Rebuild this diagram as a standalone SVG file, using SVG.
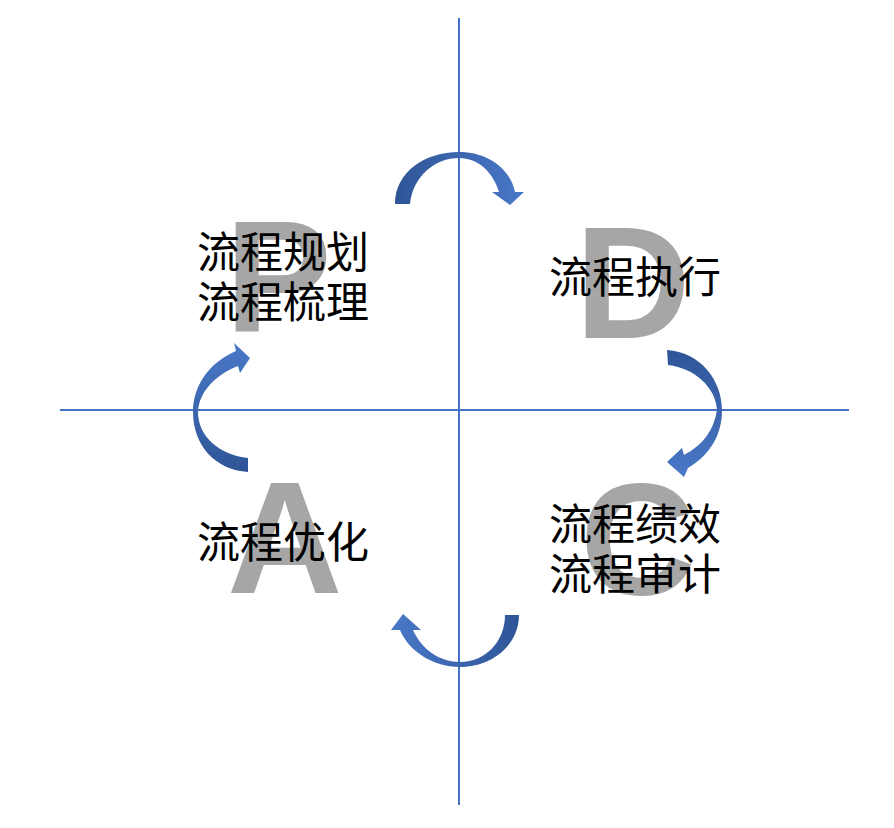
<svg xmlns="http://www.w3.org/2000/svg" width="894" height="828" viewBox="0 0 894 828">
<style>
.axis{stroke:#4472C4;stroke-width:2;fill:none}
.big{font-family:"Liberation Sans",Arial,sans-serif;font-weight:bold;font-size:160px;fill:#A6A6A6}
.lbl{font-family:"Noto Sans CJK SC","Noto Sans",sans-serif;font-size:43px;fill:#000}
.arr{stroke:none}
</style>
<defs>
<linearGradient id="gH" x1="0" y1="0" x2="1" y2="0"><stop offset="0" stop-color="#2E5596"/><stop offset="1" stop-color="#4A78C8"/></linearGradient>
<linearGradient id="gHr" x1="1" y1="0" x2="0" y2="0"><stop offset="0" stop-color="#2E5596"/><stop offset="1" stop-color="#4A78C8"/></linearGradient>
<linearGradient id="gV" x1="0" y1="0" x2="0" y2="1"><stop offset="0" stop-color="#2E5596"/><stop offset="1" stop-color="#4A78C8"/></linearGradient>
<linearGradient id="gVr" x1="0" y1="1" x2="0" y2="0"><stop offset="0" stop-color="#2E5596"/><stop offset="1" stop-color="#4A78C8"/></linearGradient>
</defs>
<rect width="894" height="828" fill="#fff"/>
<g id="letters">
<text class="big" x="225" y="332">P</text>
<text class="big" x="575" y="338">D</text>
<text class="big" x="580" y="594">C</text>
<text class="big" x="227" y="593">A</text>
</g>
<g id="connectors">
<line class="axis" x1="459" y1="18" x2="459" y2="805"/>
<line class="axis" x1="60" y1="410" x2="849" y2="410"/>
<path class="arr" fill="url(#gH)" d="M395 204 C395 172 425 152 459 152 C487 152 510 168 515 192 L524 192 L510 205 L492 192 L499 192 C493 172 478 158 459 158 C435 158 413 176 410 204 Z"/>
<path class="arr" fill="url(#gV)" d="M667 350 C700 352 722 380 722 410 C722 435 710 455 688 468 L684 477 L667 462 L682 448 L684 455 C703 445 714 430 717 410 C716 388 695 368 668 365 Z"/>
<path class="arr" fill="url(#gHr)" d="M519 615 C519 645 492 667 460 667 C432 667 408 650 400 630 L391 630 L403 614 L421 630 L413 630 C422 650 440 662 460 662 C485 662 505 642 505 615 Z"/>
<path class="arr" fill="url(#gVr)" d="M248 472 C215 470 193 445 193 412 C193 385 210 362 236 351 L234 343 L250 358 L240 373 L238 366 C215 375 199 392 198 412 C198 437 220 455 248 458 Z"/>
</g>
<g id="node-P"><text class="lbl" x="197" y="268">流程规划</text><text class="lbl" x="197" y="318">流程梳理</text></g>
<g id="node-D"><text class="lbl" x="549" y="293">流程执行</text></g>
<g id="node-C"><text class="lbl" x="549" y="540">流程绩效</text><text class="lbl" x="549" y="590">流程审计</text></g>
<g id="node-A"><text class="lbl" x="197" y="558">流程优化</text></g>
</svg>
